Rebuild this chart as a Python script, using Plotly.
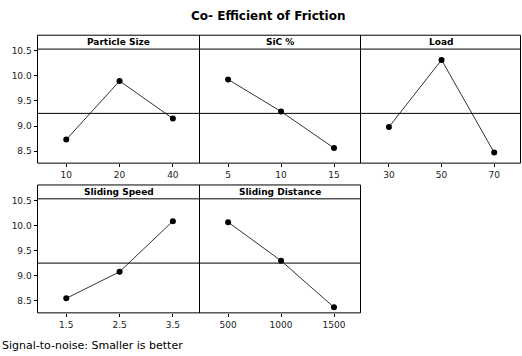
import plotly.graph_objects as go

W, H = 522, 356

factors = ["Particle Size", "SiC %", "Load", "Sliding Speed", "Sliding Distance"]
levels = [["10", "20", "40"], ["5", "10", "15"], ["30", "50", "70"],
          ["1.5", "2.5", "3.5"], ["500", "1000", "1500"]]
particle_size = [8.73, 9.90, 9.15]
sic_pct = [9.93, 9.29, 8.56]
load = [8.98, 10.32, 8.47]
sliding_speed = [8.55, 9.08, 10.09]
sliding_distance = [10.07, 9.30, 8.37]
series = [particle_size, sic_pct, load, sliding_speed, sliding_distance]
y_ticks = [8.5, 9.0, 9.5, 10.0, 10.5]
title = "Co- Efficient of Friction"
footer = "Signal-to-noise: Smaller is better"

grand_mean = sum(sum(s) for s in series) / sum(len(s) for s in series)

# panel geometry in px
cols = [(37.5, 199.5), (199.5, 360.5), (360.5, 520.5)]
rows = [(32.5, 46.5, 161.5), (183.5, 197.5, 312.5)]  # frame top, strip bottom, plot bottom
positions = [(0, 0), (0, 1), (0, 2), (1, 0), (1, 1)]

FONT = "DejaVu Sans"
fig = go.Figure()
shapes = []
annotations = []

for i, (name, lv, vals) in enumerate(zip(factors, levels, series)):
    r, c = positions[i]
    x0, x1 = cols[c]
    top, sb, bot = rows[r]
    xa = "xaxis" if i == 0 else f"xaxis{i+1}"
    ya = "yaxis" if i == 0 else f"yaxis{i+1}"
    xr = "x" if i == 0 else f"x{i+1}"
    yr = "y" if i == 0 else f"y{i+1}"
    fig.add_trace(go.Scatter(
        x=[0, 1, 2], y=vals, xaxis=xr, yaxis=yr, mode="lines+markers",
        line=dict(color="#333333", width=1),
        marker=dict(color="black", size=6), showlegend=False, hoverinfo="skip"))
    fig.layout[xa] = dict(
        domain=[x0 / W, x1 / W], anchor=yr, range=[-0.54, 2.5],
        tickmode="array", tickvals=[0, 1, 2], ticktext=lv,
        showgrid=False, zeroline=False, showline=False,
        ticks="outside", ticklen=3,
        tickcolor="black", tickfont=dict(family=FONT, size=9, color="#222"),
        fixedrange=True)
    fig.layout[ya] = dict(
        domain=[1 - bot / H, 1 - sb / H], anchor=xr, range=[8.26, 10.535],
        tickmode="array", tickvals=y_ticks,
        ticktext=[f"{v:.1f}" for v in y_ticks],
        showticklabels=(c == 0), ticks="outside" if c == 0 else "",
        ticklen=3, tickcolor="black",
        showgrid=False, zeroline=False, showline=False,
        tickfont=dict(family=FONT, size=9, color="#222"), fixedrange=True)
    # mean line
    shapes.append(dict(type="line", xref=f"{xr} domain", yref=yr,
                       x0=0, x1=1, y0=grand_mean, y1=grand_mean,
                       line=dict(color="black", width=1)))
    # panel frame
    shapes.append(dict(type="rect", xref="paper", yref="paper",
                       x0=x0 / W, x1=x1 / W, y0=1 - bot / H, y1=1 - top / H,
                       line=dict(color="black", width=1)))
    # strip bottom line
    shapes.append(dict(type="line", xref="paper", yref="paper",
                       x0=x0 / W, x1=x1 / W, y0=1 - sb / H, y1=1 - sb / H,
                       line=dict(color="black", width=1)))
    annotations.append(dict(text=f"<b>{name}</b>", xref="paper", yref="paper",
                            x=(x0 + x1) / 2 / W, y=1 - (top + sb) / 2 / H,
                            showarrow=False, xanchor="center", yanchor="middle",
                            font=dict(family=FONT, size=9, color="black")))

annotations.append(dict(text=f"<b>{title}</b>", xref="paper", yref="paper",
                        x=268 / W, y=1 - 13 / H, showarrow=False,
                        xanchor="center", yanchor="middle",
                        font=dict(family=FONT, size=12, color="black")))
annotations.append(dict(text=footer, xref="paper", yref="paper",
                        x=0, y=1 - 345 / H, showarrow=False,
                        xanchor="left", yanchor="middle",
                        font=dict(family=FONT, size=11, color="black")))

fig.update_layout(width=W, height=H, margin=dict(l=0, r=0, t=0, b=0),
                  paper_bgcolor="white", plot_bgcolor="white",
                  shapes=shapes, annotations=annotations)
fig.write_html("out.html", config={"displayModeBar": False})
